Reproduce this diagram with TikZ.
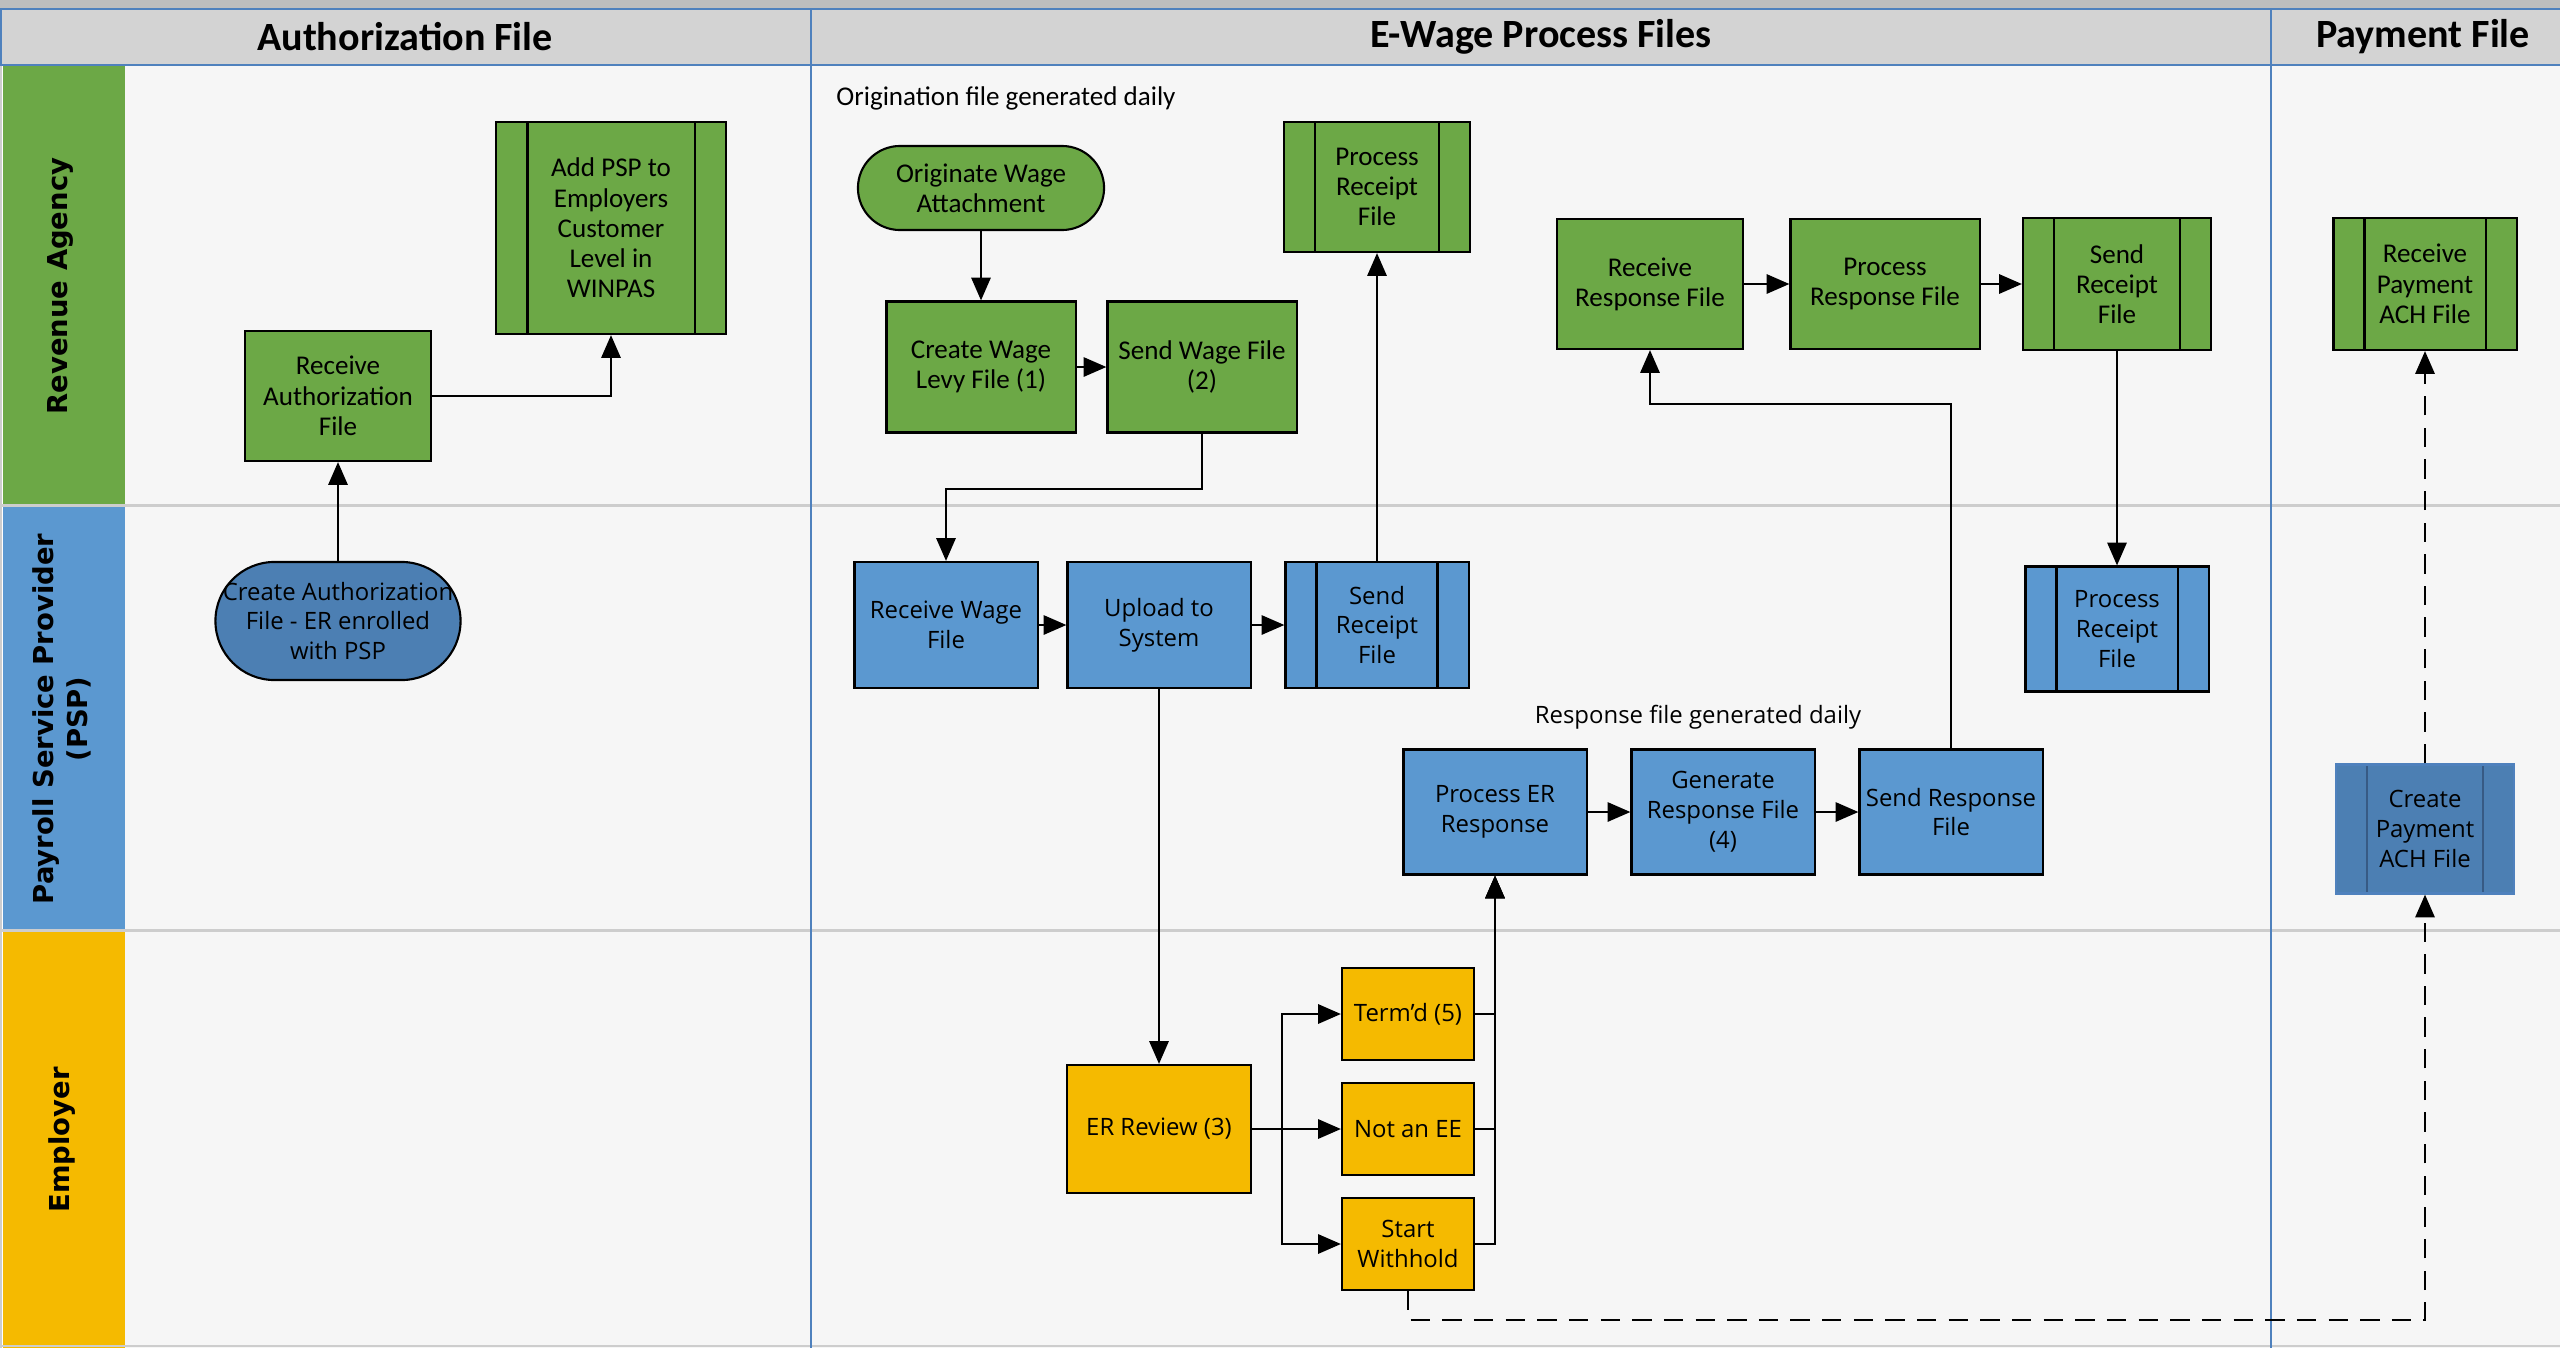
\documentclass[tikz,border=0pt]{standalone}
\usepackage{fontspec}
\setmainfont{Carlito}
\newfontfamily\segoe{Open Sans}
\newfontfamily\lanefont{DejaVu Sans}
\usetikzlibrary{arrows.meta}
\definecolor{lanegreen}{RGB}{108,168,70}
\definecolor{laneblue}{RGB}{91,152,208}
\definecolor{darkblue}{RGB}{76,127,179}
\definecolor{laneyellow}{RGB}{245,186,0}
\definecolor{headgray}{RGB}{211,211,211}
\definecolor{topgray}{RGB}{190,190,190}
\definecolor{bggray}{RGB}{246,246,246}
\definecolor{sepgray}{RGB}{205,205,205}
\definecolor{divblue}{RGB}{79,129,189}
\begin{document}
\begin{tikzpicture}[x=0.01cm, y=-0.01cm,
        box/.style={draw=black, line width=0.6pt, inner sep=0pt, align=center,
        minimum width=1.86cm, minimum height=1.3cm},
        greenbox/.style={box, fill=lanegreen, 
        font=\fontsize{7.7}{8.6}\selectfont},
        bluebox/.style={box, fill=laneblue, minimum width=1.83cm, 
        minimum height=1.26cm, font=\segoe\fontsize{6.8}{8.5}\selectfont},
        yellowbox/.style={box, fill=laneyellow, minimum width=1.32cm, 
        minimum height=0.92cm, font=\segoe\fontsize{6.8}{8.5}\selectfont},
        predef/.style={path picture={
        \draw[#1, line width=0.6pt] 
        ([xshift=0.31cm]path picture bounding box.north west) -- 
        ([xshift=0.31cm]path picture bounding box.south west);
        \draw[#1, line width=0.6pt] 
        ([xshift=-0.31cm]path picture bounding box.north east) -- 
        ([xshift=-0.31cm]path picture bounding box.south east);}},
        predef/.default=black,
        arr/.style={line width=0.6pt, -{Triangle[length=6.5pt, width=5.5pt]}},
        lanelabel/.style={rotate=90, align=center,
        font=\lanefont\bfseries\fontsize{7.8}{9.6}\selectfont},
        colhead/.style={font=\bfseries\fontsize{11.4}{13}\selectfont}]
        \useasboundingbox (0,0) rectangle (2560,1348);
        \fill[topgray] (0,0) rectangle (2560,9);
        \fill[headgray] (0,9) rectangle (2560,66);
        \fill[bggray] (125,66) rectangle (2560,1348);
        \fill[lanegreen] (3,66) rectangle (125,504);
        \fill[laneblue] (3,507) rectangle (125,929);
        \fill[laneyellow] (3,932) rectangle (125,1348);
        \draw[sepgray, line width=0.8pt] (0,505.5) -- (2560,505.5);
        \draw[sepgray, line width=0.8pt] (0,930.5) -- (2560,930.5);
        \draw[sepgray, line width=0.8pt] (0,1346) -- (2560,1346);
        \draw[sepgray, line width=0.8pt] (1,66) -- (1,1348);
        \draw[divblue, line width=0.6pt] (0,9) -- (2560,9);
        \draw[divblue, line width=0.6pt] (0,65) -- (2560,65);
        \draw[divblue, line width=0.6pt] (1,9) -- (1,65);
        \foreach \x in {811,2271}
        \draw[divblue, line width=0.6pt] (\x,9) -- (\x,1348);
        \node[colhead] (authhead) at (405,37) {Authorization File};
        \node[colhead] (wagehead) at (1541,37) {E-Wage Process Files};
        \node[colhead] (payhead) at (2423,37) {Payment File};
        \node[lanelabel] (revlane) at (60,286) {Revenue Agency};
        \node[lanelabel] (psplane) at (62,719) 
        {Payroll Service Provider\\(PSP)};
        \node[lanelabel] (emplane) at (62,1140) {Employer};
        \node[greenbox] (recvauth) at (338,396) 
        {Receive\\Authorization\\File};
        \node[greenbox, predef, minimum width=2.29cm, minimum height=2.12cm] 
        (addpsp) at (611,228) 
        {Add PSP to\\Employers\\Customer\\Level in\\WINPAS};
        \node[anchor=west, font=\fontsize{7.7}{8.6}\selectfont] (orignote) 
        at (824,98) {Origination file generated daily};
        \node[greenbox, rounded corners=0.42cm, minimum width=2.46cm, 
        minimum height=0.84cm] (origwage) at (981,188) 
        {Originate Wage\\Attachment};
        \node[greenbox, minimum width=1.89cm, minimum height=1.31cm] 
        (createlevy) at (981,367) {Create Wage\\Levy File (1)};
        \node[greenbox, minimum width=1.89cm, minimum height=1.31cm] 
        (sendwage) at (1202,367) {Send Wage File\\(2)};
        \node[greenbox, predef] (procrcptg) at (1377,187) 
        {Process\\Receipt\\File};
        \node[greenbox] (recvresp) at (1650,284) {Receive\\Response File};
        \node[greenbox, minimum width=1.89cm] (procresp) at (1885,284) 
        {Process\\Response File};
        \node[greenbox, predef, minimum width=1.88cm, minimum height=1.32cm] 
        (sendrcptg) at (2117,284) {Send\\Receipt\\File};
        \node[greenbox, predef, minimum width=1.83cm, minimum height=1.32cm] 
        (recvpay) at (2425,284) {Receive\\Payment\\ACH File};
        \node[bluebox, fill=darkblue, rounded corners=0.59cm, 
        minimum width=2.45cm, minimum height=1.18cm] (createauth) 
        at (338,621) {Create Authorization\\File - ER enrolled\\with PSP};
        \node[bluebox] (recvwage) at (946,625) {Receive Wage\\File};
        \node[bluebox] (upload) at (1159,625) {Upload to\\System};
        \node[bluebox, predef] (sendrcptb) at (1377,625) 
        {Send\\Receipt\\File};
        \node[bluebox, predef, minimum height=1.25cm] (procrcptb) 
        at (2117,629) {Process\\Receipt\\File};
        \node[font=\segoe\fontsize{6.8}{8.5}\selectfont] (respnote) 
        at (1698,717) {Response file generated daily};
        \node[bluebox, minimum height=1.25cm] (procer) at (1495,812) 
        {Process ER\\Response};
        \node[bluebox, minimum height=1.25cm] (genresp) at (1723,812) 
        {Generate\\Response File\\(4)};
        \node[bluebox, minimum height=1.25cm] (sendresp) at (1951,812) 
        {Send Response\\File};
        \node[bluebox, predef=divblue!70!black, fill=darkblue, draw=divblue, 
        minimum width=1.78cm, minimum height=1.29cm] (createpay) 
        at (2425,829) {Create\\Payment\\ACH File};
        \node[yellowbox, minimum width=1.84cm, minimum height=1.28cm] 
        (erreview) at (1159,1129) {ER Review (3)};
        \node[yellowbox] (termd) at (1408,1014) {Term’d (5)};
        \node[yellowbox] (notee) at (1408,1129) {Not an EE};
        \node[yellowbox] (startw) at (1408,1244) {Start\\Withhold};
        \draw[arr] (createauth) -- (recvauth);
        \draw[arr] (recvauth.east) -| (addpsp.south);
        \draw[arr] (origwage) -- (createlevy);
        \draw[arr] (createlevy) -- (sendwage);
        \draw[arr] (sendwage.south) -- ++(0,55) -| (recvwage.north);
        \draw[arr] (recvwage) -- (upload);
        \draw[arr] (upload) -- (sendrcptb);
        \draw[arr] (sendrcptb) -- (procrcptg);
        \draw[arr] (upload) -- (erreview);
        \draw[arr] (erreview.east) -- ++(30,0) |- (termd);
        \draw[arr] (erreview) -- (notee);
        \draw[arr] (erreview.east) -- ++(30,0) |- (startw);
        \foreach \n in {termd,notee,startw}
        \draw[arr] (\n.east) -| (procer.south);
        \draw[arr] (procer) -- (genresp);
        \draw[arr] (genresp) -- (sendresp);
        \draw[arr] (sendresp.north) -- ++(0,-344) -| (recvresp.south);
        \draw[arr] (recvresp) -- (procresp);
        \draw[arr] (procresp) -- (sendrcptg);
        \draw[arr] (sendrcptg) -- (procrcptb);
        \draw[arr, dash pattern=on 5.5pt off 3.5pt] (startw.south) 
        -- ++(0,29) -| (createpay.south);
        \draw[arr, dash pattern=on 5.5pt off 3.5pt] (createpay) -- (recvpay);
    \end{tikzpicture}
\end{document}
